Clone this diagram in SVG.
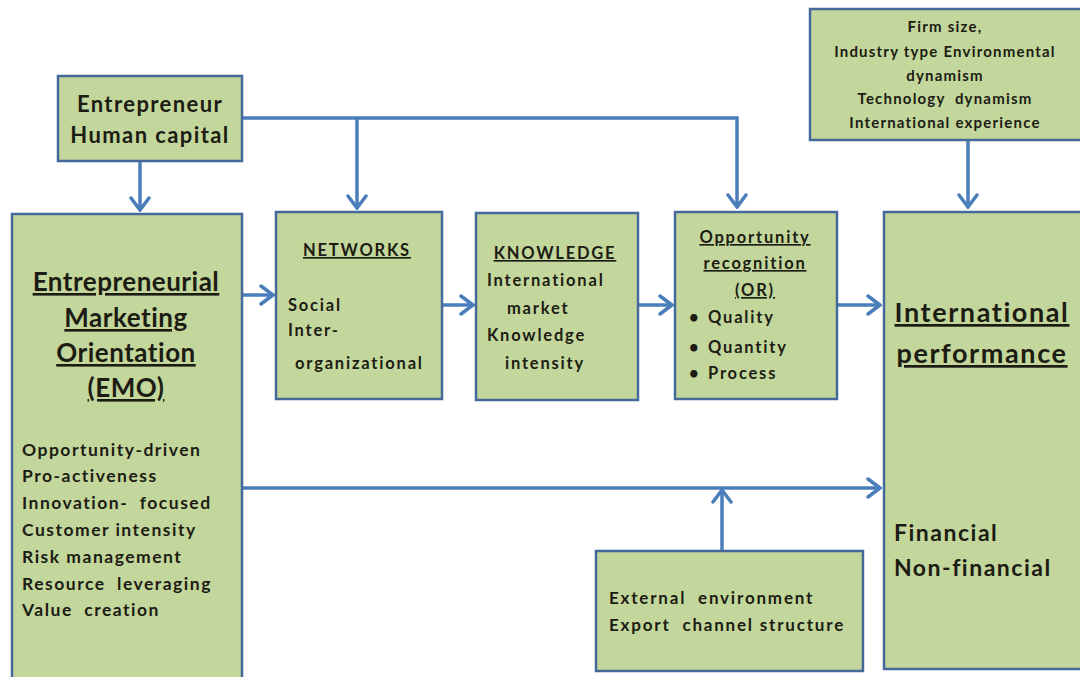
<svg xmlns="http://www.w3.org/2000/svg" width="1080" height="677" viewBox="0 0 1080 677">
<defs>
<style>
.box{fill:#c3d69b;stroke:#46699b;stroke-width:2.5}
.t{font-family:Lato,"Liberation Sans",sans-serif;font-weight:bold;fill:#1c1c14}
.c{text-anchor:middle}
.u{text-decoration:underline}
.m{font-size:16.5px;letter-spacing:1.8px}
.ln{fill:none;stroke:#4a7ebb;stroke-width:3.5}
</style>
<marker id="ah" markerUnits="userSpaceOnUse" viewBox="-14 -11 16 22" refX="0" refY="0" markerWidth="16" markerHeight="22" orient="auto">
<path d="M-12,-9 L0,0 L-12,9" fill="none" stroke="#4a7ebb" stroke-width="3.5" stroke-linecap="round" stroke-linejoin="miter"/>
</marker>
</defs>
<rect width="1080" height="677" fill="#ffffff"/>
<g id="connectors">
<path class="ln" d="M140,162 V210" marker-end="url(#ah)"/>
<path class="ln" d="M242,118 H737 V207" marker-end="url(#ah)"/>
<path class="ln" d="M357,118 V208" marker-end="url(#ah)"/>
<path class="ln" d="M968,140 V207" marker-end="url(#ah)"/>
<path class="ln" d="M242,295 H273" marker-end="url(#ah)"/>
<path class="ln" d="M442,305 H473" marker-end="url(#ah)"/>
<path class="ln" d="M638,305 H672" marker-end="url(#ah)"/>
<path class="ln" d="M837,305 H880" marker-end="url(#ah)"/>
<path class="ln" d="M242,488 H880" marker-end="url(#ah)"/>
<path class="ln" d="M722,551 V490" marker-end="url(#ah)"/>
</g>
<g id="entrepreneur">
<rect class="box" x="58" y="76" width="184" height="85"/>
<text class="t c" font-size="22" letter-spacing="1.4"><tspan x="150" y="112">Entrepreneur</tspan><tspan x="150" y="143">Human capital</tspan></text>
</g>
<g id="firm">
<rect class="box" x="810" y="9" width="272" height="131"/>
<text class="t c" font-size="15" letter-spacing="1.2" xml:space="preserve"><tspan x="945" y="32">Firm size,</tspan><tspan x="945" y="57">Industry type Environmental</tspan><tspan x="945" y="81">dynamism</tspan><tspan x="945" y="104">Technology  dynamism</tspan><tspan x="945" y="128">International experience</tspan></text>
</g>
<g id="emo">
<rect class="box" x="12" y="214" width="230" height="470"/>
<text class="t c u" font-size="26" letter-spacing="0.5"><tspan x="126" y="291">Entrepreneurial</tspan><tspan x="126" y="327">Marketing</tspan><tspan x="126" y="362">Orientation</tspan><tspan x="126" y="397">(EMO)</tspan></text>
<text class="t" font-size="17.5" letter-spacing="1.5" xml:space="preserve"><tspan x="22" y="456">Opportunity-driven</tspan><tspan x="22" y="482">Pro-activeness</tspan><tspan x="22" y="509">Innovation-  focused</tspan><tspan x="22" y="536">Customer intensity</tspan><tspan x="22" y="563">Risk management</tspan><tspan x="22" y="590">Resource  leveraging</tspan><tspan x="22" y="616">Value  creation</tspan></text>
</g>
<g id="networks">
<rect class="box" x="276" y="212" width="166" height="187"/>
<text class="t c u m" x="357" y="256">NETWORKS</text>
<text class="t m"><tspan x="288" y="311">Social</tspan><tspan x="288" y="336">Inter-</tspan><tspan x="295" y="369">organizational</tspan></text>
</g>
<g id="knowledge">
<rect class="box" x="476" y="213" width="162" height="187"/>
<text class="t c u m" x="555" y="259">KNOWLEDGE</text>
<text class="t m"><tspan x="487" y="286">International</tspan><tspan x="507" y="314">market</tspan><tspan x="487" y="341">Knowledge</tspan><tspan x="505" y="369">intensity</tspan></text>
</g>
<g id="or">
<rect class="box" x="675" y="212" width="162" height="187"/>
<text class="t c u m"><tspan x="755" y="243">Opportunity</tspan><tspan x="755" y="269">recognition</tspan><tspan x="755" y="296">(OR)</tspan></text>
<text class="t m"><tspan x="689" y="323">•</tspan><tspan x="708" y="323">Quality</tspan><tspan x="689" y="353">•</tspan><tspan x="708" y="353">Quantity</tspan><tspan x="689" y="379">•</tspan><tspan x="708" y="379">Process</tspan></text>
</g>
<g id="performance">
<rect class="box" x="884" y="212" width="200" height="457"/>
<text class="t c u" font-size="27" letter-spacing="1.6"><tspan x="982" y="322">International</tspan><tspan x="982" y="363">performance</tspan></text>
<text class="t" font-size="23" letter-spacing="1.5"><tspan x="894" y="541">Financial</tspan><tspan x="894" y="576">Non-financial</tspan></text>
</g>
<g id="external">
<rect class="box" x="596" y="551" width="267" height="120"/>
<text class="t" font-size="17" letter-spacing="1.8" xml:space="preserve"><tspan x="609" y="604">External  environment</tspan><tspan x="609" y="631">Export  channel structure</tspan></text>
</g>
</svg>
